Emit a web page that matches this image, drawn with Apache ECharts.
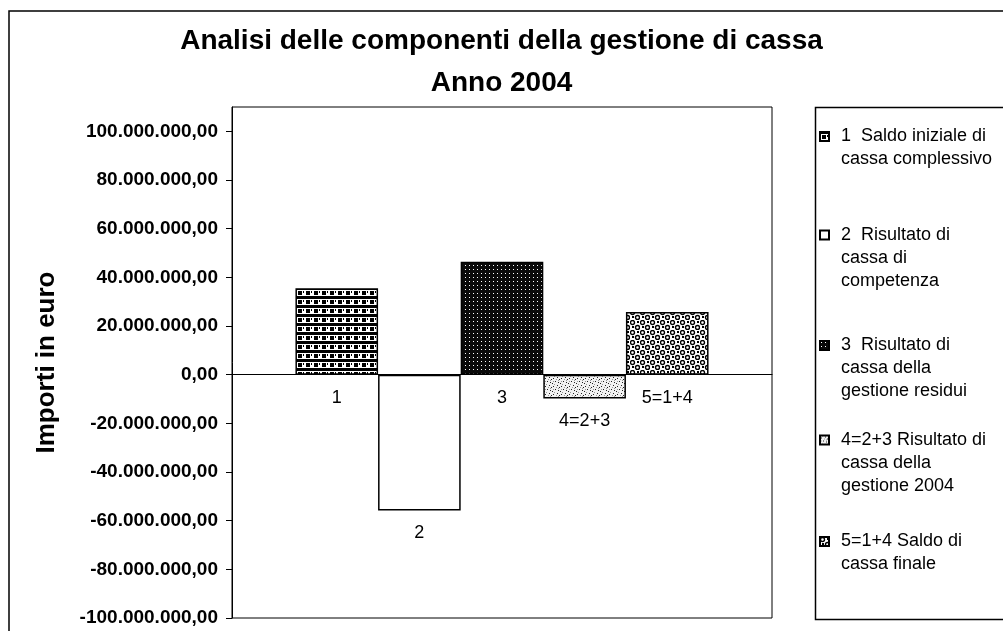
<!DOCTYPE html>
<html><head><meta charset="utf-8">
<script src="https://cdn.jsdelivr.net/npm/echarts@6/dist/echarts.min.js"></script>
<style>html,body{margin:0;padding:0;background:#fff}#c{width:1003px;height:631px}</style>
</head><body><div id="c"></div>
<script>
// ---- data ----
const categories = ['1', '2', '3', '4=2+3', '5=1+4'];
const seriesNames = [
  '1  Saldo iniziale di\ncassa complessivo',
  '2  Risultato di\ncassa di\ncompetenza',
  '3  Risultato di\ncassa della\ngestione residui',
  '4=2+3 Risultato di\ncassa della\ngestione 2004',
  '5=1+4 Saldo di\ncassa finale'
];
const values = [35.5e6, -55.8e6, 46.4e6, -9.8e6, 25.8e6];
const tickValues = [-100e6, -80e6, -60e6, -40e6, -20e6, 0, 20e6, 40e6, 60e6, 80e6, 100e6];
const titleText = 'Analisi delle componenti della gestione di cassa\nAnno 2004';
const yAxisName = 'Importi in euro';

// ---- helpers ----
const FONT = '"Liberation Sans", Arial, Helvetica, sans-serif';
function fmtIt(v) {
  const neg = v < 0;
  let s = Math.round(Math.abs(v)).toString().replace(/\B(?=(\d{3})+(?!\d))/g, '.');
  return (neg ? '-' : '') + s + ',00';
}
function tile(w, h, draw) {
  const c = document.createElement('canvas');
  c.width = w; c.height = h;
  const g = c.getContext('2d');
  draw(g);
  return { image: c, repeat: 'repeat' };
}
const patterns = [
  tile(8, 9, g => { g.fillStyle = '#fff'; g.fillRect(0, 0, 8, 9); g.fillStyle = '#000';
    g.fillRect(0, 0, 8, 2); g.fillRect(2, 3, 4, 4); g.fillRect(0, 8, 8, 1); g.fillRect(7, 3, 1, 2); }),
  '#ffffff',
  tile(4, 4, g => { g.fillStyle = '#0a0a0a'; g.fillRect(0, 0, 4, 4); g.fillStyle = '#fff'; g.fillRect(1, 1, 1, 1); }),
  tile(8, 8, g => { g.fillStyle = '#f2f2f2'; g.fillRect(0, 0, 8, 8); g.fillStyle = '#222';
    [[1,2],[5,1],[3,5],[6,6],[0,7],[7,3]].forEach(p => g.fillRect(p[0], p[1], 1, 1));
    g.fillStyle = '#999'; [[2,0],[4,3],[1,5],[6,4]].forEach(p => g.fillRect(p[0], p[1], 1, 1)); }),
  tile(10, 10, g => { g.fillStyle = '#fff'; g.fillRect(0, 0, 10, 10); g.strokeStyle = '#000'; g.lineWidth = 1.4;
    [[2.5,2.5],[7.5,7.5]].forEach(p => { g.beginPath(); g.arc(p[0], p[1], 2, 0, Math.PI * 2); g.stroke(); });
    g.fillStyle = '#000'; g.fillRect(7, 1, 2, 2); g.fillRect(2, 6, 2, 2); })
];
const legendFirstLineY = [136.5, 235, 345.5, 440, 541.5];
const LH = 23;

const chart = echarts.init(document.getElementById('c'), null, { renderer: 'canvas' });
chart.setOption({
  animation: false,
  backgroundColor: '#fff',
  title: {
    text: titleText, left: 'center', top: 20, padding: 0,
    textStyle: { fontFamily: FONT, fontSize: 28, fontWeight: 'bold', color: '#000', lineHeight: 42 }
  },
  graphic: [
    { type: 'rect', shape: { x: 9, y: 11, width: 1010, height: 640 }, style: { fill: 'none', stroke: '#000', lineWidth: 1.5 }, silent: true },
    { type: 'rect', shape: { x: 815.5, y: 107.5, width: 200, height: 512 }, style: { fill: 'none', stroke: '#000', lineWidth: 1.5 }, silent: true }
  ],
  legend: seriesNames.map((name, i) => {
    const n = name.split('\n').length;
    return {
      orient: 'vertical', left: 819, top: legendFirstLineY[i] - (2 * n - 1) * LH / 2, padding: 0,
      itemWidth: 9, itemHeight: 9, icon: 'rect', selectedMode: false,
      // blank lines above keep the icon level with the first text line
      formatter: t => '\n'.repeat(t.split('\n').length - 1) + t,
      textStyle: { fontFamily: FONT, fontSize: 18, lineHeight: LH, color: '#000', padding: [0, 0, 0, 7] },
      data: [name]
    };
  }),
  grid: { left: 232, right: 231, top: 107, bottom: 13, show: true, borderColor: '#000', borderWidth: 1, containLabel: false },
  xAxis: {
    type: 'category', data: [''],
    axisLine: { show: true, onZero: true, lineStyle: { color: '#000', width: 1.2 } },
    axisTick: { show: false }, axisLabel: { show: false }, splitLine: { show: false }
  },
  yAxis: {
    type: 'value', min: -100e6, max: 110e6,
    name: yAxisName, nameLocation: 'middle', nameGap: 172,
    nameTextStyle: { fontFamily: FONT, fontSize: 26, fontWeight: 'bold', color: '#000' },
    axisLine: { show: true, lineStyle: { color: '#000' } },
    axisTick: { show: true, length: 6, customValues: tickValues, lineStyle: { color: '#000' } },
    axisLabel: { customValues: tickValues, formatter: fmtIt, fontFamily: FONT, fontSize: 19, fontWeight: 'bold', color: '#000', margin: 14 },
    splitLine: { show: false }
  },
  series: seriesNames.map((name, i) => ({
    type: 'bar', name: name, data: [values[i]],
    barGap: '0%', barCategoryGap: '23.5%',
    itemStyle: { color: patterns[i], borderColor: '#000', borderWidth: 1.5 },
    label: { show: true, position: 'bottom', distance: 14, formatter: categories[i], fontFamily: FONT, fontSize: 18, color: '#000' }
  }))
});
</script></body></html>
